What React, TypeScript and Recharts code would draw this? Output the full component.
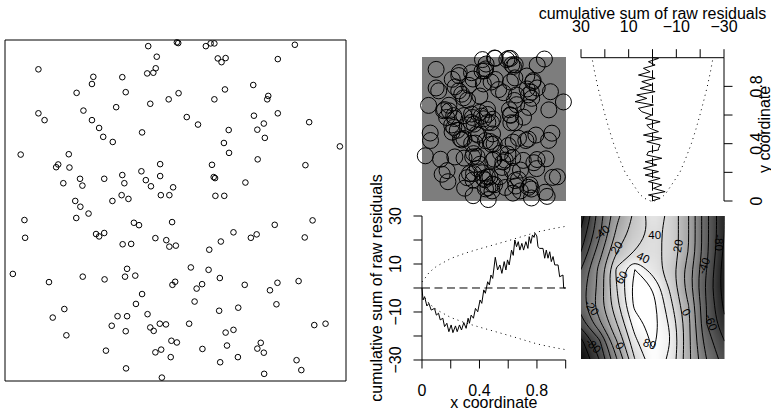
import React from "react";
import {
  ScatterChart,
  Scatter,
  LineChart,
  Line,
  ComposedChart,
  XAxis,
  YAxis,
  ReferenceArea,
  ReferenceLine,
} from "recharts";

// point pattern in the unit window, [x, y]
const points: [number, number][] = [
  [0.42, 0.982], [0.504, 0.993], [0.508, 0.991], [0.445, 0.951], [0.098, 0.914], [0.442, 0.917], [0.435, 0.904], [0.417, 0.902], [0.259, 0.892], [0.344, 0.891],
  [0.255, 0.871], [0.21, 0.845], [0.354, 0.847], [0.509, 0.844], [0.48, 0.826], [0.426, 0.813], [0.326, 0.803], [0.23, 0.793], [0.098, 0.785], [0.116, 0.765],
  [0.255, 0.765], [0.276, 0.742], [0.402, 0.729], [0.288, 0.716], [0.316, 0.701], [0.046, 0.664], [0.187, 0.665], [0.156, 0.635], [0.15, 0.627], [0.189, 0.626],
  [0.455, 0.636], [0.344, 0.604], [0.4, 0.615], [0.455, 0.601], [0.22, 0.593], [0.291, 0.593], [0.413, 0.589], [0.35, 0.58], [0.171, 0.58], [0.227, 0.573],
  [0.428, 0.571], [0.493, 0.568], [0.342, 0.545], [0.362, 0.534], [0.457, 0.545], [0.482, 0.545], [0.315, 0.528], [0.206, 0.528], [0.221, 0.511],
  [0.589, 0.982], [0.603, 0.99], [0.614, 0.99], [0.85, 0.986], [0.624, 0.946], [0.635, 0.935], [0.647, 0.947], [0.8, 0.944], [0.728, 0.868], [0.645, 0.855],
  [0.614, 0.826], [0.772, 0.836], [0.769, 0.826], [0.533, 0.774], [0.566, 0.752], [0.73, 0.778], [0.8, 0.785], [0.892, 0.759], [0.759, 0.755], [0.74, 0.737],
  [0.656, 0.736], [0.762, 0.713], [0.642, 0.698], [0.982, 0.688], [0.657, 0.669], [0.741, 0.65], [0.607, 0.634], [0.881, 0.633], [0.612, 0.598], [0.616, 0.595],
  [0.705, 0.582], [0.617, 0.543], [0.643, 0.543],
  [0.057, 0.472], [0.209, 0.478], [0.245, 0.491], [0.378, 0.464], [0.393, 0.457], [0.49, 0.466], [0.059, 0.42], [0.267, 0.431], [0.276, 0.424], [0.291, 0.434],
  [0.441, 0.419], [0.473, 0.413], [0.482, 0.394], [0.501, 0.397], [0.345, 0.401], [0.37, 0.402], [0.023, 0.314], [0.129, 0.29], [0.228, 0.306], [0.292, 0.298],
  [0.358, 0.329], [0.352, 0.306], [0.382, 0.309], [0.491, 0.282], [0.499, 0.291], [0.402, 0.255], [0.384, 0.226], [0.174, 0.211], [0.14, 0.186], [0.33, 0.19],
  [0.358, 0.19], [0.418, 0.196], [0.313, 0.162], [0.426, 0.157], [0.436, 0.147], [0.454, 0.168], [0.472, 0.166], [0.354, 0.146], [0.18, 0.134], [0.488, 0.118],
  [0.504, 0.113], [0.296, 0.089], [0.441, 0.084], [0.458, 0.092], [0.486, 0.07], [0.355, 0.037], [0.46, 0.01],
  [0.902, 0.471], [0.791, 0.458], [0.67, 0.436], [0.721, 0.42], [0.738, 0.43], [0.879, 0.421], [0.633, 0.409], [0.599, 0.385], [0.545, 0.333], [0.597, 0.326],
  [0.63, 0.302], [0.578, 0.284], [0.562, 0.271], [0.703, 0.282], [0.799, 0.288], [0.777, 0.266], [0.861, 0.293], [0.556, 0.233], [0.628, 0.206], [0.684, 0.215],
  [0.796, 0.225], [0.54, 0.168], [0.67, 0.15], [0.647, 0.142], [0.907, 0.164], [0.94, 0.168], [0.579, 0.094], [0.651, 0.104], [0.75, 0.112], [0.74, 0.095],
  [0.759, 0.083], [0.631, 0.055], [0.683, 0.07], [0.855, 0.061], [0.869, 0.032], [0.76, 0.021],
];

// cumulative raw residuals against x, [x, value]
const xCurve: [number, number][] = [
  [0, 0], [0.007, -5], [0.018, -3.6], [0.034, -7.5], [0.048, -6.4], [0.064, -9.2], [0.087, -8.5], [0.1, -11.3], [0.115, -10.5], [0.127, -13.3],
  [0.145, -12.6], [0.157, -16.1], [0.173, -14.7], [0.187, -18.2], [0.203, -15.4], [0.215, -18.6], [0.233, -15.8], [0.245, -18.2], [0.261, -15.4], [0.275, -17.5],
  [0.291, -14.4], [0.307, -16.8], [0.321, -12.6], [0.33, -14.7], [0.342, -11.3], [0.358, -12.6], [0.372, -8.5], [0.388, -9.9], [0.404, -5], [0.416, -6.4],
  [0.43, -0.8], [0.441, -2.2], [0.457, 2.6], [0.469, 1.3], [0.48, 5.4], [0.492, 4], [0.51, 12.8], [0.526, 7.5], [0.542, 9.6], [0.556, 6.1],
  [0.572, 11], [0.584, 7.5], [0.595, 11.7], [0.607, 9.6], [0.623, 15.8], [0.635, 13.6], [0.646, 20], [0.658, 17.2], [0.67, 19.3], [0.681, 15.8],
  [0.695, 18.6], [0.707, 15.8], [0.723, 19.3], [0.737, 16.5], [0.746, 21.4], [0.757, 18.6], [0.769, 22.1], [0.78, 21.1], [0.787, 22.8], [0.799, 21.7],
  [0.807, 17.2], [0.819, 16.5], [0.842, 16.5], [0.854, 12.4], [0.865, 15.8], [0.877, 12.4], [0.889, 15.1], [0.9, 11], [0.912, 13.1], [0.924, 9.6],
  [0.947, 9.6], [0.958, 4.7], [0.981, 5.4], [0.986, 0], [1, 0],
];

// cumulative raw residuals against y, [y, value]
const yCurve: [number, number][] = [
  [0, 0.3], [0.019, -3.2], [0.042, 1.7], [0.065, -5.3], [0.088, -0.4], [0.112, -3.9], [0.135, 1.7], [0.158, -3.2], [0.181, 3.1], [0.205, -2.5],
  [0.228, 3.8], [0.251, -1.8], [0.274, 3.1], [0.298, -3.9], [0.321, 2.4], [0.344, 1.7], [0.356, -2.5], [0.367, -2.5], [0.391, -3.2], [0.414, 2.4],
  [0.437, -3.9], [0.46, 3.8], [0.484, -2.5], [0.507, 1], [0.53, 2.4], [0.553, -3.2], [0.577, 3.1], [0.6, 0.3], [0.623, 4.5], [0.647, 5.9],
  [0.67, -0.4], [0.693, 7.3], [0.716, 2.4], [0.74, 6.6], [0.763, -1.1], [0.786, 5.2], [0.809, 0.3], [0.833, 4.5], [0.856, -1.1], [0.879, 5.9],
  [0.902, 1], [0.926, 3.8], [0.949, -1.1], [0.972, 1.7], [0.995, -2.5], [1, 0],
];

// two-sigma envelopes
const envGrid = [0, 0.02, 0.05, 0.1, 0.2, 0.3, 0.4, 0.5, 0.6, 0.7, 0.8, 0.9, 1];
const xEnvUpper = [2.5, 4, 6.5, 9, 12.3, 14.5, 16.3, 18, 19.7, 21.5, 23.3, 24.6, 25.7];
const xEnvLower = [-2.5, -4, -6.5, -9, -12.3, -14.5, -16.3, -18, -19.7, -21.5, -23.3, -24.6, -25.7];
const yEnvUpper = [0.8, 3.5, 5.5, 7.5, 11.5, 14, 16.3, 18.2, 19.9, 21.5, 23, 24.3, 25.4];
const yEnvLower = [-0.8, -3.5, -5.5, -7.5, -11.5, -14, -16.3, -18.2, -19.9, -21.5, -23, -24.3, -25.4];

const cumTicks = [-30, -20, -10, 0, 10, 20, 30];
const cumLabels = [-30, -10, 10, 30];
const unitTicks = [0, 0.2, 0.4, 0.6, 0.8, 1];
const unitLabels = [0, 0.4, 0.8];

// smoothed residual field, rows from top (y=1) to bottom (y=0)
const fieldU = [0, 0.125, 0.25, 0.375, 0.5, 0.625, 0.75, 0.875, 1];
const fieldW = [1, 0.875, 0.75, 0.625, 0.5, 0.375, 0.25, 0.125, 0];
const fieldRows = [
  [-110, -50, -5, 25, 50, 35, 0, -55, -100],
  [-95, -45, 5, 30, 45, 35, 0, -55, -100],
  [-80, -30, 20, 40, 45, 35, 0, -55, -105],
  [-60, -15, 45, 80, 50, 30, -10, -60, -110],
  [-50, -15, 40, 88, 80, 35, -10, -65, -110],
  [-50, -10, 35, 85, 88, 45, 0, -60, -105],
  [-70, -25, 20, 70, 90, 55, 5, -60, -95],
  [-105, -65, 0, 55, 85, 60, 5, -50, -80],
  [-120, -80, -20, 40, 75, 55, 5, -40, -70],
];
const contourLevels = [-100, -80, -60, -40, -20, 0, 20, 40, 60, 80];
const contourLabels = [
  { u: 0.144, w: 0.884, text: "-40" },
  { u: 0.248, w: 0.779, text: "20" },
  { u: 0.514, w: 0.865, text: "40" },
  { u: 0.433, w: 0.709, text: "40" },
  { u: 0.282, w: 0.57, text: "60" },
  { u: 0.676, w: 0.791, text: "20" },
  { u: 0.965, w: 0.814, text: "-80" },
  { u: 0.856, w: 0.651, text: "-40" },
  { u: 0.074, w: 0.36, text: "-20" },
  { u: 0.734, w: 0.326, text: "0" },
  { u: 0.907, w: 0.256, text: "-60" },
  { u: 0.086, w: 0.093, text: "-80" },
  { u: 0.271, w: 0.093, text: "0" },
  { u: 0.479, w: 0.105, text: "80" },
];
const contourLabelAngles = [-40, -55, 0, 25, -60, -80, 90, -70, 55, 60, 70, 45, 60, 20];

const FONT = '"Liberation Sans", Arial, Helvetica, sans-serif';
const TXT = { fontFamily: FONT, fontSize: 16, fill: "#000" };

const fmt = (v: number) => (v < 0 ? "\u2212" + Math.abs(v) : String(v));

const grayOf = (v: number) => {
  const t = Math.max(0, Math.min(1, (v + 130) / 200));
  const g = Math.round(t * 255);
  return `rgb(${g},${g},${g})`;
};

type Pt = { u: number; w: number };

// marching squares over the field grid, chained into polylines split by null gaps
function contourLines() {
  const out: { u: number; w: number | null }[] = [];
  const key = (p: Pt) => p.u.toFixed(5) + "," + p.w.toFixed(5);
  for (const L of contourLevels) {
    const segs: [Pt, Pt][] = [];
    for (let r = 0; r < fieldW.length - 1; r++) {
      for (let c = 0; c < fieldU.length - 1; c++) {
        const cs = [
          [fieldU[c], fieldW[r], fieldRows[r][c]],
          [fieldU[c + 1], fieldW[r], fieldRows[r][c + 1]],
          [fieldU[c + 1], fieldW[r + 1], fieldRows[r + 1][c + 1]],
          [fieldU[c], fieldW[r + 1], fieldRows[r + 1][c]],
        ];
        const hits: Pt[] = [];
        for (let k = 0; k < 4; k++) {
          const a = cs[k];
          const b = cs[(k + 1) % 4];
          if (a[2] > L !== b[2] > L) {
            const t = (L - a[2]) / (b[2] - a[2]);
            hits.push({ u: a[0] + t * (b[0] - a[0]), w: a[1] + t * (b[1] - a[1]) });
          }
        }
        for (let k = 0; k + 1 < hits.length; k += 2) segs.push([hits[k], hits[k + 1]]);
      }
    }
    const byKey = new Map<string, number[]>();
    segs.forEach((s, i) =>
      s.forEach((p) => {
        const k = key(p);
        if (!byKey.has(k)) byKey.set(k, []);
        byKey.get(k)!.push(i);
      })
    );
    const used = segs.map(() => false);
    const grow = (line: Pt[], atEnd: boolean) => {
      for (;;) {
        const tip = atEnd ? line[line.length - 1] : line[0];
        const tk = key(tip);
        const j = (byKey.get(tk) || []).find((idx) => !used[idx]);
        if (j === undefined) return;
        used[j] = true;
        const s = segs[j];
        const nxt = key(s[0]) === tk ? s[1] : s[0];
        if (atEnd) line.push(nxt);
        else line.unshift(nxt);
      }
    };
    segs.forEach((s, i) => {
      if (used[i]) return;
      used[i] = true;
      const line: Pt[] = [s[0], s[1]];
      grow(line, true);
      grow(line, false);
      out.push(...line, { u: line[line.length - 1].u, w: null });
    });
  }
  return out;
}

const ring = (r: number) => (p: any) => (
  <circle cx={p.cx} cy={p.cy} r={r} fill="none" stroke="#000" strokeWidth={1} />
);

const TopTick = (p: any) =>
  cumLabels.includes(p.payload.value) ? (
    <text x={p.x} y={p.y} textAnchor="middle" {...TXT}>{fmt(p.payload.value)}</text>
  ) : (
    <g />
  );

const LeftTick = (p: any) =>
  cumLabels.includes(p.payload.value) ? (
    <text x={p.x} y={p.y} textAnchor="middle" transform={`rotate(-90 ${p.x} ${p.y})`} {...TXT}>
      {fmt(p.payload.value)}
    </text>
  ) : (
    <g />
  );

const BottomTick = (p: any) =>
  unitLabels.includes(p.payload.value) ? (
    <text x={p.x} y={p.y} textAnchor="middle" {...TXT}>{String(p.payload.value)}</text>
  ) : (
    <g />
  );

const RightTick = (p: any) =>
  unitLabels.includes(p.payload.value) ? (
    <text x={p.x} y={p.y} textAnchor="middle" transform={`rotate(-90 ${p.x} ${p.y})`} {...TXT}>
      {String(p.payload.value)}
    </text>
  ) : (
    <g />
  );

const axisStroke = { stroke: "#000", strokeWidth: 1 };

function PointPattern() {
  const data = points.map(([x, y]) => ({ x, y }));
  return (
    <div style={{ position: "absolute", left: -7, top: 28 }}>
      <ScatterChart width={365} height={365} margin={{ top: 12, right: 12, bottom: 12, left: 12 }}>
        <XAxis type="number" dataKey="x" domain={[0, 1]} hide />
        <YAxis type="number" dataKey="y" domain={[0, 1]} hide />
        <ReferenceArea x1={0} x2={1} y1={0} y2={1} fill="none" fillOpacity={0} stroke="#000" strokeWidth={1} />
        <Scatter data={data} isAnimationActive={false} shape={ring(2.8)} />
      </ScatterChart>
    </div>
  );
}

function MarkPanel() {
  const data = points.map(([x, y]) => ({ x, y }));
  return (
    <div style={{ position: "absolute", left: 410, top: 45 }}>
      <ScatterChart width={168} height={168} margin={{ top: 12, right: 12, bottom: 12, left: 12 }}>
        <XAxis type="number" dataKey="x" domain={[0, 1]} hide />
        <YAxis type="number" dataKey="y" domain={[0, 1]} hide />
        <ReferenceArea x1={0} x2={1} y1={0} y2={1} fill="#7d7d7d" fillOpacity={1} stroke="none" />
        <Scatter data={data} isAnimationActive={false} shape={ring(8)} />
      </ScatterChart>
    </div>
  );
}

// axes get a 1px box (Recharts skips zero-sized axes), margins take it back
function YResidPanel() {
  const m = { top: 57.7 - 1, left: 130, right: 60 - 1, bottom: 10 };
  const pw = 143;
  const ph = 143.3;
  const left = 580.7 - m.left;
  const curve = yCurve.map(([y, v]) => ({ y, v }));
  const up = envGrid.map((y, i) => ({ y, v: yEnvUpper[i] }));
  const lo = envGrid.map((y, i) => ({ y, v: yEnvLower[i] }));
  return (
    <div style={{ position: "absolute", left, top: 0 }}>
      <LineChart layout="vertical" width={m.left + pw + m.right + 1} height={m.top + ph + m.bottom + 1} margin={m}>
        <XAxis
          type="number"
          orientation="top"
          reversed
          domain={[-30, 30]}
          ticks={cumTicks}
          interval={0}
          height={1}
          tickSize={8.5}
          tickMargin={17}
          axisLine={axisStroke}
          tickLine={axisStroke}
          tick={TopTick}
          label={{
            content: () => (
              <text x={m.left + pw / 2} y={18.5} textAnchor="middle" {...TXT}>
                cumulative sum of raw residuals
              </text>
            ),
          }}
        />
        <YAxis
          type="number"
          dataKey="y"
          orientation="right"
          reversed
          domain={[0, 1]}
          ticks={[0, 0.2, 0.4, 0.6, 0.8]}
          interval={0}
          width={1}
          tickSize={8.5}
          tickMargin={29.5}
          axisLine={axisStroke}
          tickLine={axisStroke}
          tick={RightTick}
          label={{
            content: () => {
              const x = 770 - left;
              const y = m.top + 1 + ph / 2;
              return (
                <text x={x} y={y} textAnchor="middle" transform={`rotate(-90 ${x} ${y})`} {...TXT}>
                  y coordinate
                </text>
              );
            },
          }}
        />
        <ReferenceLine x={0} stroke="#000" strokeDasharray="8 4.5" />
        <Line data={up} dataKey="v" stroke="#000" strokeDasharray="1 4" dot={false} isAnimationActive={false} />
        <Line data={lo} dataKey="v" stroke="#000" strokeDasharray="1 4" dot={false} isAnimationActive={false} />
        <Line data={curve} dataKey="v" stroke="#000" strokeWidth={1} dot={false} isAnimationActive={false} />
      </LineChart>
    </div>
  );
}

function XResidPanel() {
  const m = { top: 60, left: 60 - 1, right: 10, bottom: 50 - 1 };
  const pw = 143.7;
  const ph = 144;
  const left = 422.3 - m.left - 1;
  const top = 216 - m.top;
  const curve = xCurve.map(([x, v]) => ({ x, v }));
  const up = envGrid.map((x, i) => ({ x, v: xEnvUpper[i] }));
  const lo = envGrid.map((x, i) => ({ x, v: xEnvLower[i] }));
  return (
    <div style={{ position: "absolute", left, top }}>
      <LineChart width={m.left + 1 + pw + m.right} height={m.top + ph + m.bottom + 1} margin={m}>
        <XAxis
          type="number"
          dataKey="x"
          domain={[0, 1]}
          ticks={unitTicks}
          interval={0}
          height={1}
          tickSize={8.5}
          tickMargin={28}
          axisLine={axisStroke}
          tickLine={axisStroke}
          tick={BottomTick}
          label={{
            content: () => (
              <text x={m.left + 1 + pw / 2} y={408.5 - top} textAnchor="middle" {...TXT}>
                x coordinate
              </text>
            ),
          }}
        />
        <YAxis
          type="number"
          domain={[-30, 30]}
          ticks={cumTicks}
          interval={0}
          width={1}
          tickSize={8.5}
          tickMargin={12.1}
          axisLine={axisStroke}
          tickLine={axisStroke}
          tick={LeftTick}
          label={{
            content: () => {
              const x = 382 - left;
              const y = m.top + ph / 2;
              return (
                <text x={x} y={y} textAnchor="middle" transform={`rotate(-90 ${x} ${y})`} {...TXT}>
                  cumulative sum of raw residuals
                </text>
              );
            },
          }}
        />
        <ReferenceLine y={0} stroke="#000" strokeDasharray="8 4.5" />
        <Line data={up} dataKey="v" stroke="#000" strokeDasharray="1 4" dot={false} isAnimationActive={false} />
        <Line data={lo} dataKey="v" stroke="#000" strokeDasharray="1 4" dot={false} isAnimationActive={false} />
        <Line data={curve} dataKey="v" stroke="#000" strokeWidth={1} dot={false} isAnimationActive={false} />
      </LineChart>
    </div>
  );
}

function ContourPanel() {
  const pad = 5;
  const pw = 143.5;
  const ph = 143;
  const step = pw / (fieldU.length - 1);
  const cells: { u: number; w: number; val: number; c: number; r: number }[] = [];
  fieldRows.forEach((row, r) => row.forEach((val, c) => cells.push({ u: fieldU[c], w: fieldW[r], val, c, r })));
  const last = fieldU.length - 1;
  const cellShape = (p: any) => {
    const { c, r, val } = p.payload;
    const x0 = p.cx - step / 2 - (c === 0 ? 14 : 0);
    const x1 = p.cx + step / 2 + 1 + (c === last ? 14 : 0);
    const y0 = p.cy - step / 2 - (r === 0 ? 14 : 0);
    const y1 = p.cy + step / 2 + 1 + (r === last ? 14 : 0);
    return <rect x={x0} y={y0} width={x1 - x0} height={y1 - y0} fill={grayOf(val)} />;
  };
  const labels = contourLabels.map((l, i) => ({ ...l, angle: contourLabelAngles[i] }));
  const labelShape = (p: any) => (
    <text
      x={p.cx}
      y={p.cy}
      textAnchor="middle"
      dominantBaseline="central"
      transform={`rotate(${p.payload.angle} ${p.cx} ${p.cy})`}
      fontFamily={FONT}
      fontSize={11.5}
      fill="#000"
    >
      {p.payload.text}
    </text>
  );
  return (
    <div style={{ position: "absolute", left: 581 - pad, top: 216 - pad }}>
      <ComposedChart width={pw + 2 * pad} height={ph + 2 * pad} margin={{ top: pad, right: pad, bottom: pad, left: pad }}>
        <XAxis type="number" dataKey="u" domain={[0, 1]} hide allowDataOverflow />
        <YAxis type="number" dataKey="w" domain={[0, 1]} hide allowDataOverflow />
        <Scatter data={cells} className="field-cells" zIndex={-60} isAnimationActive={false} shape={cellShape} />
        <Line data={contourLines()} dataKey="w" type="basis" stroke="#000" strokeWidth={1} dot={false} isAnimationActive={false} />
        <Scatter data={labels} isAnimationActive={false} shape={labelShape} />
      </ComposedChart>
    </div>
  );
}

export default function App() {
  return (
    <div
      style={{
        position: "absolute",
        left: 0,
        top: 0,
        width: 771,
        height: 410,
        overflow: "hidden",
        background: "#fff",
        fontFamily: FONT,
      }}
    >
      <style>{".field-cells{filter:blur(6px)}"}</style>
      <PointPattern />
      <MarkPanel />
      <YResidPanel />
      <XResidPanel />
      <ContourPanel />
    </div>
  );
}
